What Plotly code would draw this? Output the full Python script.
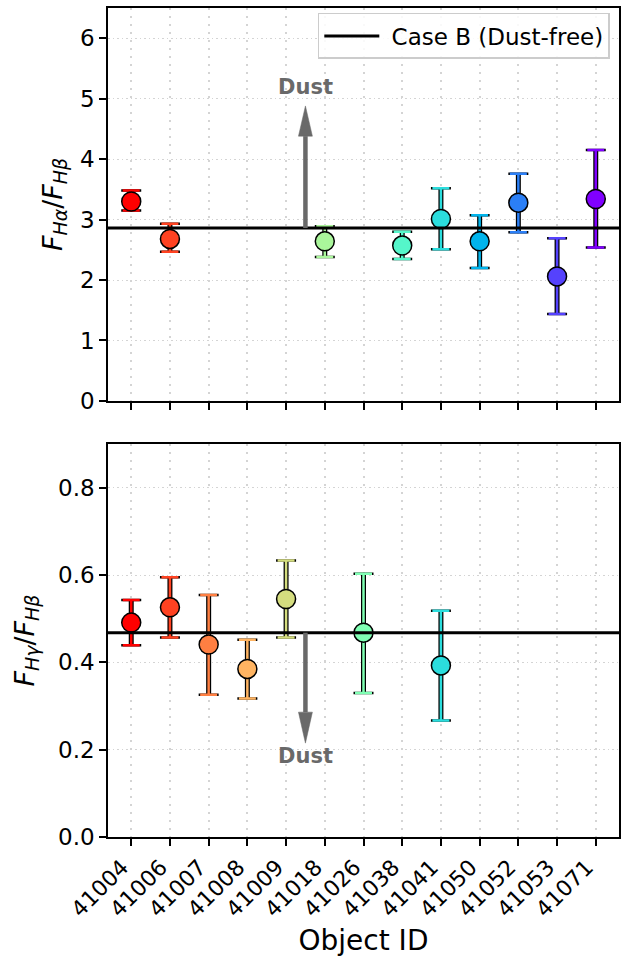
import math
import plotly.graph_objects as go
from plotly.subplots import make_subplots

# ---- data -------------------------------------------------------------
objects = ['41004', '41006', '41007', '41008', '41009', '41018', '41026',
           '41038', '41041', '41050', '41052', '41053', '41071']

# Balmer decrement F(Ha)/F(Hb)
ha_ids = ['41004', '41006', '41018', '41038', '41041', '41050', '41052', '41053', '41071']
ha_val = [3.30, 2.68, 2.64, 2.57, 3.01, 2.64, 3.28, 2.06, 3.34]
ha_err_up = [0.18, 0.25, 0.25, 0.23, 0.51, 0.43, 0.48, 0.63, 0.81]
ha_err_dn = [0.15, 0.21, 0.26, 0.22, 0.50, 0.44, 0.49, 0.62, 0.80]

# F(Hg)/F(Hb)
hg_ids = ['41004', '41006', '41007', '41008', '41009', '41026', '41041']
hg_val = [0.491, 0.526, 0.441, 0.385, 0.545, 0.468, 0.393]
hg_err_up = [0.052, 0.069, 0.113, 0.067, 0.088, 0.135, 0.125]
hg_err_dn = [0.052, 0.069, 0.115, 0.068, 0.088, 0.138, 0.126]

# Case B recombination values (dust-free)
case_b_ha = 2.86
case_b_hg = 0.468

# Dust arrows: length in data units from the Case B level
arrow_len_ha = 2.02
arrow_len_hg = -0.253

y_ticks_ha = [0, 1, 2, 3, 4, 5, 6]
y_ticks_hg = [0.0, 0.2, 0.4, 0.6, 0.8]

# ---- style ------------------------------------------------------------
FONT = 'DejaVu Sans'
X_PAD = 0.6
ARROW_COLOR = '#696969'


def rainbow(t):
    r = min(1.0, abs(2 * t - 0.5))
    g = math.sin(math.pi * t)
    b = math.cos(math.pi * t / 2)
    return 'rgb({},{},{})'.format(*(int(round(255 * max(0.0, c))) for c in (r, g, b)))


n = len(objects)
obj_color = {o: rainbow(1 - i / (n - 1)) for i, o in enumerate(objects)}
obj_pos = {o: i for i, o in enumerate(objects)}

fig = make_subplots(rows=2, cols=1, shared_xaxes=True, vertical_spacing=0.052)


def add_points(ids, vals, up, dn, row):
    xs = [obj_pos[o] for o in ids]
    # black outline under the coloured error bars
    fig.add_trace(go.Scatter(
        x=xs, y=vals, mode='markers', showlegend=False, hoverinfo='skip',
        marker=dict(size=1, color='rgba(0,0,0,0)'),
        error_y=dict(type='data', symmetric=False, array=up, arrayminus=dn,
                     color='black', thickness=5, width=0)), row=row, col=1)
    fig.add_trace(go.Scatter(
        x=xs, y=vals, mode='markers', showlegend=False, hoverinfo='skip',
        marker=dict(size=1, color='rgba(0,0,0,0)'),
        error_y=dict(type='data', symmetric=False, array=up, arrayminus=dn,
                     color='black', thickness=2.5, width=10)), row=row, col=1)
    for o, x, v, u, d in zip(ids, xs, vals, up, dn):
        c = obj_color[o]
        fig.add_trace(go.Scatter(
            x=[x], y=[v], mode='markers', showlegend=False, name=o,
            marker=dict(size=19, color=c, line=dict(color='black', width=1.5)),
            error_y=dict(type='data', symmetric=False, array=[u], arrayminus=[d],
                         color=c, thickness=2.5, width=8.5)), row=row, col=1)


add_points(ha_ids, ha_val, ha_err_up, ha_err_dn, 1)
add_points(hg_ids, hg_val, hg_err_up, hg_err_dn, 2)

# Case B reference lines
fig.add_shape(type='line', xref='x domain', yref='y', x0=0, x1=1,
              y0=case_b_ha, y1=case_b_ha, line=dict(color='black', width=3),
              showlegend=True, name='\u00a0Case B (Dust-free)', layer='above')
fig.add_shape(type='line', xref='x2 domain', yref='y2', x0=0, x1=1,
              y0=case_b_hg, y1=case_b_hg, line=dict(color='black', width=3),
              layer='above')


def dust_arrow(xref, yref, x, y0, length, head_len, text_off):
    direction = 1 if length > 0 else -1
    tip = y0 + length
    base = tip - direction * head_len
    hw = 0.18
    fig.add_shape(type='line', xref=xref, yref=yref, x0=x, x1=x, y0=y0, y1=base,
                  line=dict(color=ARROW_COLOR, width=4.5), layer='above')
    fig.add_shape(type='path', xref=xref, yref=yref,
                  path=f'M {x - hw},{base} L {x + hw},{base} L {x},{tip} Z',
                  fillcolor=ARROW_COLOR, line=dict(color=ARROW_COLOR, width=0.5),
                  layer='above')
    fig.add_annotation(xref=xref, yref=yref, x=x, y=tip + text_off, text='<b>Dust</b>',
                       showarrow=False, font=dict(family=FONT, size=21, color=ARROW_COLOR))


arrow_x = (obj_pos['41009'] + obj_pos['41018']) / 2
dust_arrow('x', 'y', arrow_x, case_b_ha, arrow_len_ha, 0.50, 0.31)
dust_arrow('x2', 'y2', arrow_x, case_b_hg, arrow_len_hg, 0.071, -0.03)

# ---- axes -------------------------------------------------------------
xaxis_common = dict(
    range=[-X_PAD, n - 1 + X_PAD], tickmode='array',
    tickvals=list(range(n)), ticktext=objects,
    showline=True, linecolor='black', linewidth=1.5, mirror=True,
    ticks='outside', ticklen=7, tickwidth=1.5, tickcolor='black',
    showgrid=True, gridcolor='#d4d4d4', gridwidth=2.2, griddash='2px,6px',
    zeroline=False,
)
fig.update_xaxes(**xaxis_common)
fig.update_xaxes(showticklabels=False, row=1, col=1)
fig.update_xaxes(showticklabels=True, tickangle=-45, ticklabelshift=-9,
                 tickfont=dict(family=FONT, size=22, color='black'),
                 title=dict(text='Object ID', font=dict(family=FONT, size=28, color='black'),
                            standoff=9),
                 row=2, col=1)

yaxis_common = dict(
    showline=True, linecolor='black', linewidth=1.5, mirror=True,
    ticks='outside', ticklen=7, tickwidth=1.5, tickcolor='black',
    showgrid=True, gridcolor='#d4d4d4', gridwidth=1.2, griddash='1.5px,3px',
    zeroline=False, tickfont=dict(family=FONT, size=23, color='black'),
)
fig.update_yaxes(**yaxis_common)
fig.update_yaxes(range=[0, 6.5], tickvals=y_ticks_ha,
                 title=dict(text='<i>F</i><sub><i>Hα</i></sub>/<i>F</i><sub><i>Hβ</i></sub>',
                            font=dict(family=FONT, size=27, color='black'), standoff=10),
                 row=1, col=1)
fig.update_yaxes(range=[0, 0.9], tickvals=y_ticks_hg, tickformat='.1f',
                 title=dict(text='<i>F</i><sub><i>Hγ</i></sub>/<i>F</i><sub><i>Hβ</i></sub>',
                            font=dict(family=FONT, size=27, color='black'), standoff=16),
                 row=2, col=1)

fig.update_layout(
    width=621, height=958,
    margin=dict(l=108, r=2, t=8, b=121, autoexpand=False),
    plot_bgcolor='white', paper_bgcolor='white',
    font=dict(family=FONT, color='black'),
    legend=dict(x=0.982, y=0.994, xanchor='right', yanchor='top', itemwidth=55,
                bgcolor='rgba(255,255,255,0.85)', bordercolor='#cccccc', borderwidth=1.5,
                font=dict(family=FONT, size=23, color='black')),
)
fig.update_xaxes(domain=[0, 1])
fig.layout.yaxis.domain = [0.526, 1.0]
fig.layout.yaxis2.domain = [0.0, 0.474]

fig.write_html('out.html')
